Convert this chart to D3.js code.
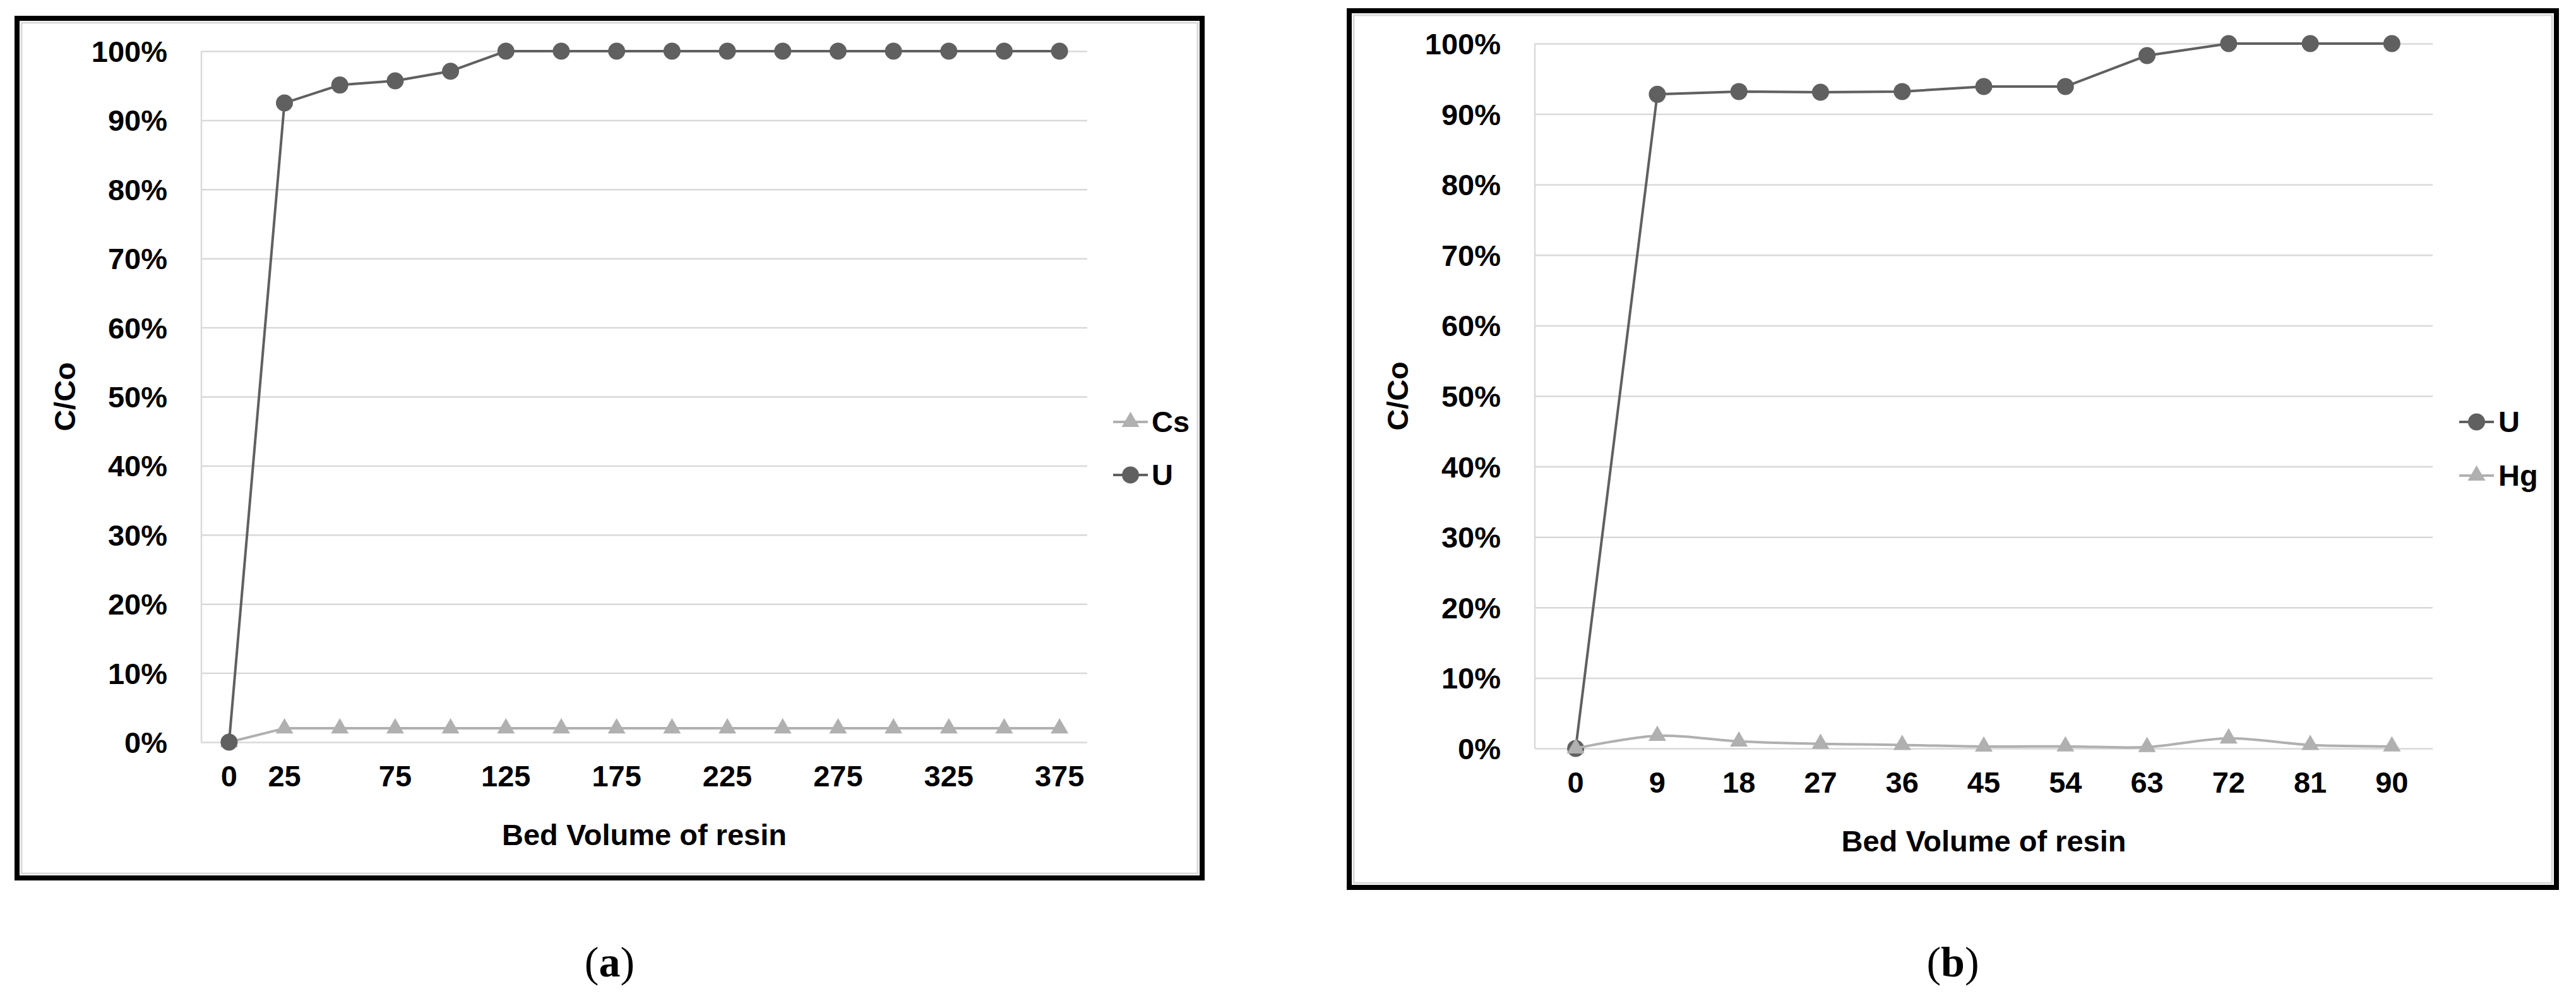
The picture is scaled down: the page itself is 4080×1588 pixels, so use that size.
<!DOCTYPE html>
<html>
<head>
<meta charset="utf-8">
<script src="https://cdn.jsdelivr.net/npm/d3@7"></script>
<style>
  body { margin: 0; background: #fff; }
  svg text { font-family: "Liberation Sans", Arial, sans-serif; font-weight: bold; fill: #000; }
</style>
</head>
<body>
<script>
// panel (a): Cs / U against bed volume
var bedVolA = [0, 25, 50, 75, 100, 125, 150, 175, 200, 225, 250, 275, 300, 325, 350, 375];
var tickLabelsA = [0, 25, 75, 125, 175, 225, 275, 325, 375];
var csA = [0, 0.02, 0.02, 0.02, 0.02, 0.02, 0.02, 0.02, 0.02, 0.02, 0.02, 0.02, 0.02, 0.02, 0.02, 0.02];
var uA = [0, 0.925, 0.951, 0.957, 0.971, 1, 1, 1, 1, 1, 1, 1, 1, 1, 1, 1];

// panel (b): U / Hg against bed volume
var bedVolB = [0, 9, 18, 27, 36, 45, 54, 63, 72, 81, 90];
var tickLabelsB = [0, 9, 18, 27, 36, 45, 54, 63, 72, 81, 90];
var uB = [0, 0.928, 0.932, 0.931, 0.932, 0.939, 0.939, 0.983, 1, 1, 1];
var hgB = [0, 0.018, 0.010, 0.0065, 0.005, 0.0027, 0.003, 0.002, 0.0143, 0.005, 0.003];

var yTicks = [0, 0.1, 0.2, 0.3, 0.4, 0.5, 0.6, 0.7, 0.8, 0.9, 1];

var dark = "#606060",
    light = "#b0b0b0",
    grid = "#d9d9d9";

var svg = d3.select("body")
    .append("svg")
    .attr("width", 4080)
    .attr("height", 1588);

drawPanel({
    frame: [27, 29, 1904, 1390],
    plot: [319, 1722, 81, 1175],
    cats: bedVolA,
    labels: tickLabelsA,
    series: [
        {name: "Cs", values: csA, color: light, shape: "triangle", smooth: false},
        {name: "U", values: uA, color: dark, shape: "circle", smooth: false}
    ],
    legend: [1763, 1818, 1824, 668, 752],
    tag: "a"
});

drawPanel({
    frame: [2137, 17, 4049, 1405],
    plot: [2431, 3853, 69, 1185],
    cats: bedVolB,
    labels: tickLabelsB,
    series: [
        {name: "U", values: uB, color: dark, shape: "circle", smooth: false},
        {name: "Hg", values: hgB, color: light, shape: "triangle", smooth: true}
    ],
    legend: [3895, 3950, 3957, 668, 753],
    tag: "b"
});

function drawPanel(cfg){
    var f = cfg.frame, p = cfg.plot;
    var g = svg.append("g");

    //black frame with thin grey chart-area border inside
    g.append("rect")
        .attr("x", f[0] + 7).attr("y", f[1] + 7)
        .attr("width", f[2] - f[0] - 14).attr("height", f[3] - f[1] - 14)
        .attr("fill", "none").attr("stroke", grid).attr("stroke-width", 3);
    g.append("rect")
        .attr("x", f[0]).attr("y", f[1])
        .attr("width", f[2] - f[0]).attr("height", f[3] - f[1])
        .attr("fill", "none").attr("stroke", "#000").attr("stroke-width", 8);

    var x = d3.scaleBand()
        .domain(cfg.cats)
        .range([p[0], p[1]]);

    var y = d3.scaleLinear()
        .domain([0, 1])
        .range([p[3], p[2]]);

    //gridlines
    g.append("g")
        .attr("transform", "translate(" + p[0] + ",0)")
        .call(d3.axisLeft(y).tickValues(yTicks).tickSize(-(p[1] - p[0])).tickFormat(""))
        .call(function(a){
            a.select(".domain").remove();
            a.selectAll("line").attr("stroke", grid).attr("stroke-width", 2.5);
        });

    //y axis line
    g.append("line")
        .attr("x1", p[0]).attr("x2", p[0])
        .attr("y1", p[2]).attr("y2", p[3])
        .attr("stroke", grid).attr("stroke-width", 2.5);

    //y tick labels
    g.append("g")
        .attr("transform", "translate(" + p[0] + ",0)")
        .call(d3.axisLeft(y).tickValues(yTicks).tickSize(0).tickPadding(54).tickFormat(d3.format(".0%")))
        .call(function(a){
            a.select(".domain").remove();
            a.selectAll("text").attr("font-size", 47).attr("font-family", null).attr("dy", "0.35em");
        });

    //x tick labels
    g.append("g")
        .attr("transform", "translate(0," + p[3] + ")")
        .call(d3.axisBottom(x).tickValues(cfg.labels).tickSize(0).tickPadding(54))
        .call(function(a){
            a.select(".domain").remove();
            a.selectAll("text").attr("font-size", 47).attr("font-family", null).attr("dy", "0.35em");
        });

    //axis titles
    g.append("text")
        .attr("x", (p[0] + p[1]) / 2)
        .attr("y", p[3] + 147)
        .attr("dy", "0.35em")
        .attr("text-anchor", "middle")
        .attr("font-size", 47)
        .text("Bed Volume of resin");

    var yMid = (p[2] + p[3]) / 2;
    var titleX = f[0] + (cfg.tag == "a" ? 76 : 77);
    g.append("text")
        .attr("transform", "translate(" + titleX + "," + yMid + ") rotate(-90)")
        .attr("dy", "0.35em")
        .attr("text-anchor", "middle")
        .attr("font-size", 47)
        .text("C/Co");

    var cx = function(d, i){ return x(cfg.cats[i]) + x.bandwidth() / 2; };

    cfg.series.forEach(function(s){
        var line = d3.line()
            .x(cx)
            .y(function(d){ return y(d); });
        if (s.smooth) line.curve(d3.curveCatmullRom.alpha(0.5));

        g.append("path")
            .datum(s.values)
            .attr("d", line)
            .attr("fill", "none")
            .attr("stroke", s.color)
            .attr("stroke-width", 4)
            .attr("stroke-linejoin", "round");

        drawMarkers(g, s, s.values.map(function(d, i){ return [cx(d, i), y(d)]; }));
    });

    //legend
    var L = cfg.legend;
    cfg.series.forEach(function(s, i){
        var ly = L[3 + i];
        g.append("line")
            .attr("x1", L[0]).attr("x2", L[1])
            .attr("y1", ly).attr("y2", ly)
            .attr("stroke", s.color).attr("stroke-width", 4);
        drawMarkers(g, s, [[(L[0] + L[1]) / 2, ly]]);
        g.append("text")
            .attr("x", L[2])
            .attr("y", ly)
            .attr("dy", "0.35em")
            .attr("font-size", 47)
            .text(s.name);
    });

    //panel tag (a)/(b)
    var tag = g.append("text")
        .attr("x", (f[0] + f[2]) / 2)
        .attr("y", 1546)
        .attr("text-anchor", "middle")
        .attr("font-size", 68)
        .style("font-family", "'Liberation Serif', 'Times New Roman', serif")
        .style("font-weight", "normal");
    tag.append("tspan").text("(");
    tag.append("tspan").style("font-weight", "bold").text(cfg.tag);
    tag.append("tspan").text(")");
}

function drawMarkers(g, s, pts){
    if (s.shape == "circle") {
        g.selectAll(null)
            .data(pts)
            .enter()
            .append("circle")
            .attr("cx", function(d){ return d[0]; })
            .attr("cy", function(d){ return d[1]; })
            .attr("r", 13.5)
            .attr("fill", s.color);
    } else {
        var tri = d3.symbol().type(d3.symbolTriangle).size(340);
        g.selectAll(null)
            .data(pts)
            .enter()
            .append("path")
            .attr("d", tri)
            .attr("transform", function(d){ return "translate(" + d[0] + "," + d[1] + ")"; })
            .attr("fill", s.color);
    }
}
</script>
</body>
</html>
